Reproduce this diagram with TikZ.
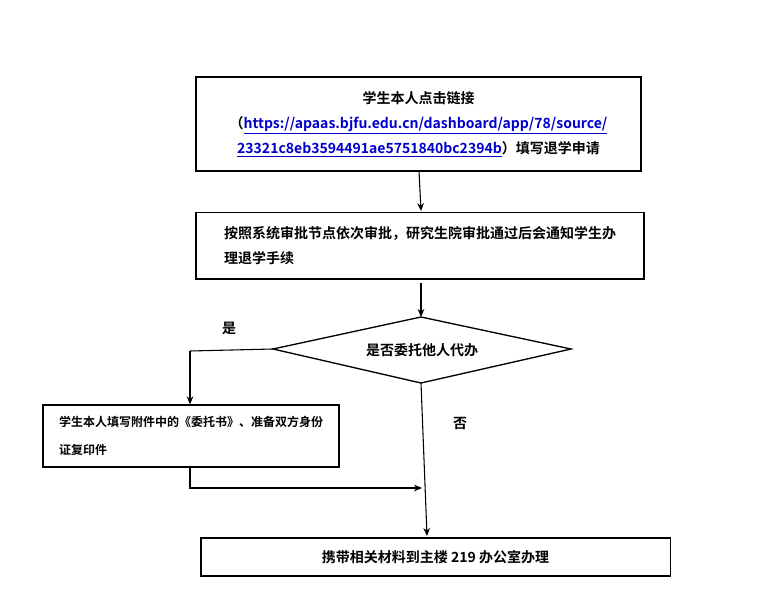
\documentclass[tikz,border=0pt]{standalone}
\usepackage{fontspec}
\setmainfont{Noto Sans CJK SC}[BoldFont={* Bold}]
\usetikzlibrary{arrows.meta}
\begin{document}
\begin{tikzpicture}[x=0.75pt,y=-0.75pt,
 box/.style={draw,line width=1pt,align=center,inner sep=0pt,font=\bfseries\fontsize{10.5}{19}\selectfont},
 arr/.style={-{Stealth[length=6pt,width=5pt]},line width=0.8pt},
 lab/.style={font=\bfseries\fontsize{10.5}{12}\selectfont}]
\useasboundingbox (0,0) rectangle (760,600);
\node[box,minimum width=333.75pt,minimum height=70.5pt] (a) at (418.5,124)
 {学生本人点击链接\\（\textcolor{blue!80!black}{\underline{https://apaas.bjfu.edu.cn/dashboard/app/78/source/}}\\
 \textcolor{blue!80!black}{\underline{23321c8eb3594491ae5751840bc2394b}}）填写退学申请};
\node[box,align=left,minimum width=336pt,minimum height=50pt] (b) at (420,245.5)
 {按照系统审批节点依次审批，研究生院审批通过后会通知学生办\\理退学手续};
\coordinate (cl) at (273,349);
\coordinate (cr) at (571,349);
\coordinate (ct) at (421,317);
\coordinate (cb) at (421,383);
\draw[line width=1pt] (cl) -- (ct) -- (cr) -- (cb) -- cycle;
\node[lab] (c) at (422,350) {是否委托他人代办};
\node[box,align=left,minimum width=222pt,minimum height=46.5pt,font=\bfseries\fontsize{9}{21}\selectfont] (d) at (191,436)
 {学生本人填写附件中的《委托书》、准备双方身份\\证复印件};
\node[box,minimum width=352pt,minimum height=28.5pt] (e) at (435.5,557) {携带相关材料到主楼 219 办公室办理};
\coordinate (c0) at (190,351);
\coordinate (d1) at (190,488);
\coordinate (e1) at (422,488);
\draw[arr] (419,171) -- (421,211);
\draw[arr] (421,283) -- (ct);
\draw[line width=0.8pt] (cl) -- (c0);
\draw[arr] (c0) -- (d.north -| c0);
\draw[arr] (d.south -| d1) -- (d1) -- (e1);
\draw[arr] (cb) -- (427,536);
\node[lab] (y) at (229,328) {是};
\node[lab] (n) at (460,424) {否};
\end{tikzpicture}
\end{document}
